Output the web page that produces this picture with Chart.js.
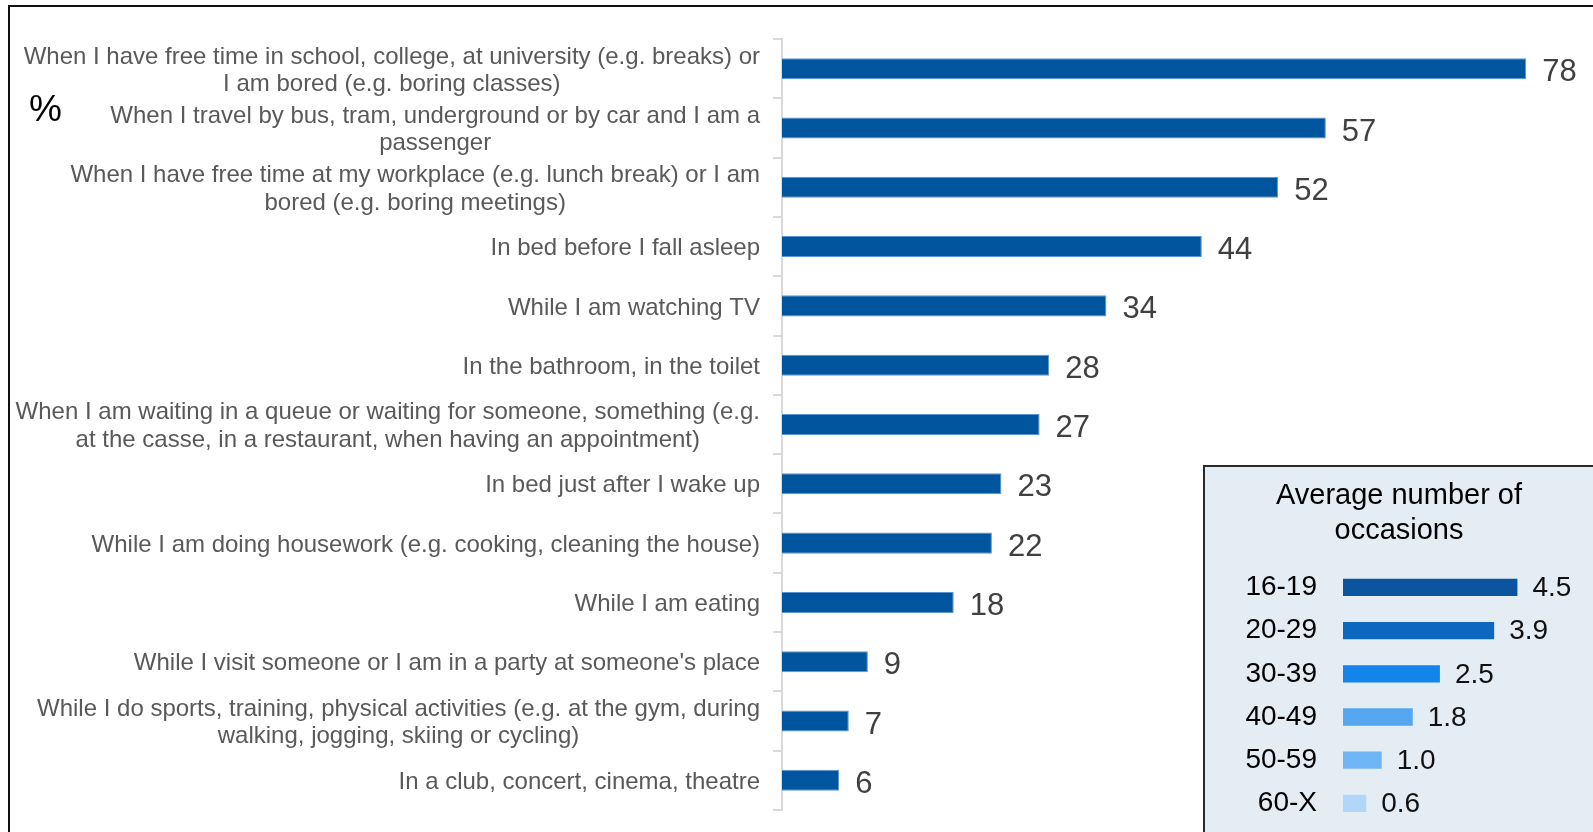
<!DOCTYPE html>
<html>
<head>
<meta charset="utf-8">
<script src="https://cdn.jsdelivr.net/npm/chart.js@4/dist/chart.umd.min.js"></script>
<style>
	body {
		margin: 0;
		background: #fff;
		font-family: 'Liberation Sans', Arial, sans-serif;
	}
	.page {
		position: relative;
		width: 1593px;
		height: 832px;
		overflow: hidden;
	}
	.frame {
		position: absolute;
		left: 8px;
		top: 5px;
		width: 1600px;
		height: 900px;
		border-left: 2px solid #111;
		border-top: 2px solid #111;
	}
	.unit {
		position: absolute;
		left: 29px;
		top: 88px;
		font-size: 37px;
		color: #000;
	}
	#mainChart {
		position: absolute;
		left: 0;
		top: 0;
	}
	.legend-box {
		position: absolute;
		left: 1203px;
		top: 465px;
		width: 420px;
		height: 420px;
		background: #e5edf4;
		border: 2px solid #2a2a2a;
	}
	#legendChart {
		position: absolute;
		left: 0;
		top: 0;
	}
</style>
</head>
<body>
<div class="page">
	<div class="frame"></div>
	<canvas id="mainChart" width="1593" height="832"></canvas>
	<div class="unit">%</div>
	<div class="legend-box">
		<canvas id="legendChart" width="388" height="367"></canvas>
	</div>
</div>
<script>
const FONT = "'Liberation Sans', Arial, sans-serif";

// Situations, each label split into its printed lines
const categories = [
	['When I have free time in school, college, at university (e.g. breaks) or', 'I am bored (e.g. boring classes)'],
	['When I travel by bus, tram, underground or by car and I am a', 'passenger'],
	['When I have free time at my workplace (e.g. lunch break) or I am', 'bored (e.g. boring meetings)'],
	['In bed before I fall asleep'],
	['While I am watching TV'],
	['In the bathroom, in the toilet'],
	['When I am waiting in a queue or waiting for someone, something (e.g.', 'at the casse, in a restaurant, when having an appointment)'],
	['In bed just after I wake up'],
	['While I am doing housework (e.g. cooking, cleaning the house)'],
	['While I am eating'],
	['While I visit someone or I am in a party at someone\'s place'],
	['While I do sports, training, physical activities (e.g. at the gym, during', 'walking, jogging, skiing or cycling)'],
	['In a club, concert, cinema, theatre']
];
const shares = [78, 57, 52, 44, 34, 28, 27, 23, 22, 18, 9, 7, 6];

// Average number of occasions by age group
const legendTitle = ['Average number of', 'occasions'];
const ageGroups = ['16-19', '20-29', '30-39', '40-49', '50-59', '60-X'];
const avgOccasions = [4.5, 3.9, 2.5, 1.8, 1.0, 0.6];
const ageColors = ['#0b54a0', '#0b67bf', '#1284ea', '#55a7f1', '#70b5f5', '#b0d6f9'];

// Multiline labels: block aligned right, lines centred inside the block
const categoryLabels = {
	id: 'categoryLabels',
	afterDraw(chart) {
		let ctx = chart.ctx;
		let scale = chart.scales.y;
		let lineHeight = 27.4;
		let right = 760;

		ctx.save();
		ctx.font = '24px ' + FONT;
		ctx.fillStyle = '#595959';
		ctx.textAlign = 'center';
		ctx.textBaseline = 'middle';

		categories.forEach((lines, index) => {
			let y = scale.getPixelForTick(index) + 2;
			let widest = Math.max(...lines.map((line) => ctx.measureText(line).width));
			let cx = right - widest / 2;
			let top = y - (lines.length - 1) * lineHeight / 2;

			lines.forEach((line, i) => {
				ctx.fillText(line, cx, top + i * lineHeight);
			});
		});
		ctx.restore();
	}
};

// Value printed after the end of each bar
function valueLabels(font, color, gap, dy, format) {
	return {
		id: 'valueLabels',
		afterDatasetsDraw(chart) {
			let ctx = chart.ctx;
			let meta = chart.getDatasetMeta(0);
			let values = chart.data.datasets[0].data;

			ctx.save();
			ctx.font = font;
			ctx.fillStyle = color;
			ctx.textAlign = 'left';
			ctx.textBaseline = 'middle';

			meta.data.forEach((bar, index) => {
				ctx.fillText(format(values[index]), bar.x + gap, bar.y + dy);
			});
			ctx.restore();
		}
	};
}

new Chart(document.getElementById('mainChart'), {
	type: 'bar',
	data: {
		labels: categories.map((lines) => lines.join(' ')),
		datasets: [{
			data: shares,
			backgroundColor: '#00559f',
			borderColor: '#5b95cf',
			borderWidth: 1,
			barPercentage: 0.355,
			categoryPercentage: 1
		}]
	},
	options: {
		indexAxis: 'y',
		responsive: false,
		animation: false,
		layout: {
			padding: { top: 39, bottom: 22, left: 0, right: 0 }
		},
		plugins: {
			legend: { display: false },
			tooltip: { enabled: false }
		},
		scales: {
			x: {
				display: false,
				min: 0,
				max: 85
			},
			y: {
				grid: {
					drawOnChartArea: false,
					color: '#d9d9d9',
					lineWidth: 2,
					tickLength: 9
				},
				border: {
					color: '#d9d9d9',
					width: 2
				},
				ticks: { display: false },
				afterFit(scale) {
					scale.width = 782;
				}
			}
		}
	},
	plugins: [categoryLabels, valueLabels('31px ' + FONT, '#404040', 16, 4, (v) => String(v))]
});

new Chart(document.getElementById('legendChart'), {
	type: 'bar',
	data: {
		labels: ageGroups,
		datasets: [{
			data: avgOccasions,
			backgroundColor: ageColors,
			barPercentage: 0.4,
			categoryPercentage: 1
		}]
	},
	options: {
		indexAxis: 'y',
		responsive: false,
		animation: false,
		layout: {
			padding: { top: 0, bottom: 9, left: 0, right: 0 }
		},
		plugins: {
			legend: { display: false },
			tooltip: { enabled: false },
			title: {
				display: true,
				text: legendTitle,
				color: '#000',
				font: { family: FONT, size: 29, weight: 'normal', lineHeight: 1.207 },
				padding: { top: 11, bottom: 17.8 }
			}
		},
		scales: {
			x: {
				display: false,
				min: 0,
				max: 6.45
			},
			y: {
				grid: {
					display: false,
					tickLength: 26
				},
				border: { display: false },
				ticks: {
					color: '#000',
					padding: 0,
					font: { family: FONT, size: 28, lineHeight: 0.6 }
				},
				afterFit(scale) {
					scale.width = 138;
				}
			}
		}
	},
	plugins: [valueLabels('28px ' + FONT, '#111', 15, 1, (v) => v.toFixed(1))]
});
</script>
</body>
</html>
